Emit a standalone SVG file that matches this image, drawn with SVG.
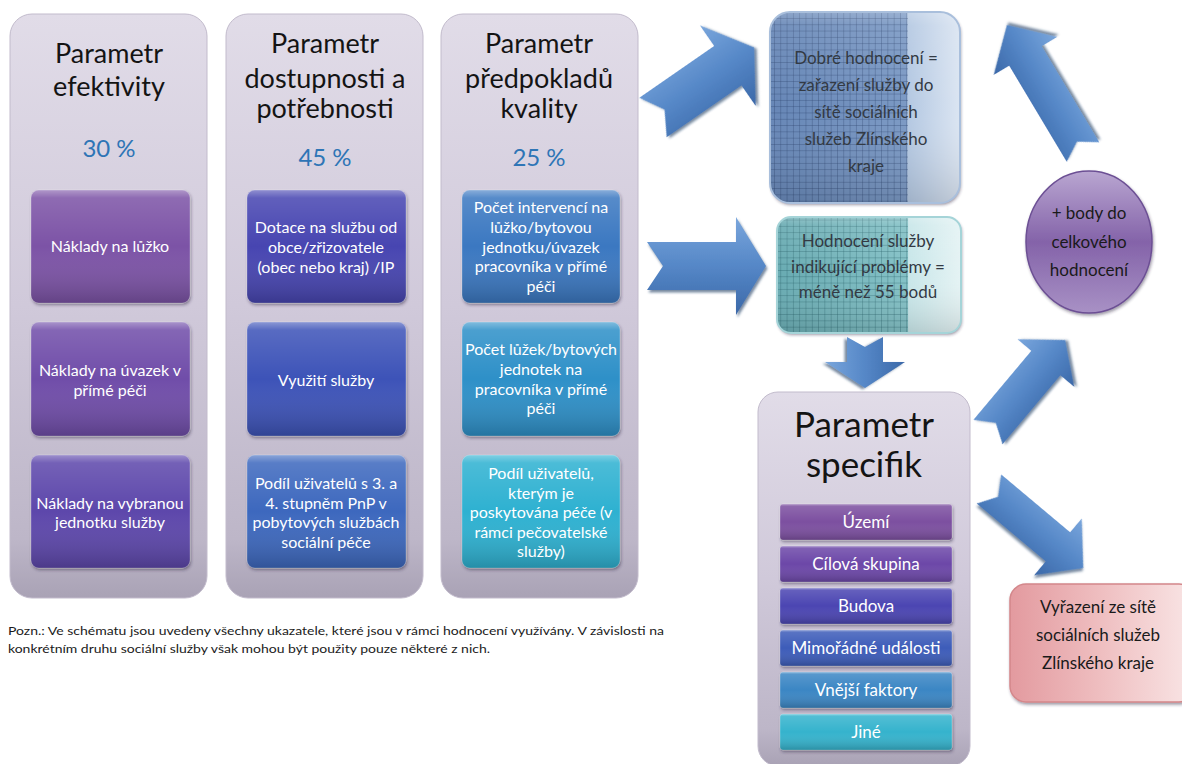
<svg xmlns="http://www.w3.org/2000/svg" width="1182" height="764" viewBox="0 0 1182 764">
<defs>
<style>
text{font-family:Lato,"Liberation Sans",sans-serif;text-anchor:middle}
.t{font-size:27px;fill:#141414}
.p{font-size:24px;fill:#2e75b6}
.w{font-size:16px;fill:#ffffff}
.wi{font-size:17px;fill:#ffffff}
.d{font-size:17px;fill:#333a44}
.k{font-size:17px;fill:#1a1a1a}
.col{fill:url(#colG);stroke:#c2bbcc;stroke-width:1}
.gl{fill:url(#gloss)}
.bx{stroke:#ffffff;stroke-opacity:.25;stroke-width:1;filter:url(#sh)}
.ar{filter:url(#ash)}
.note{font-size:12px;fill:#1a1a1a;text-anchor:start}
</style>
<linearGradient id="colG" x1="0" y1="0" x2="0" y2="1">
<stop offset="0" stop-color="#e1dce8"/><stop offset=".5" stop-color="#d0c9da"/><stop offset=".9" stop-color="#bdb6c8"/><stop offset="1" stop-color="#a9a2b5"/>
</linearGradient>
<linearGradient id="gloss" x1="0" y1="0" x2="0" y2="1">
<stop offset="0" stop-color="#fff" stop-opacity=".4"/><stop offset=".07" stop-color="#fff" stop-opacity=".14"/><stop offset=".5" stop-color="#fff" stop-opacity="0"/><stop offset="1" stop-color="#000" stop-opacity=".2"/>
</linearGradient>
<linearGradient id="arA" x1="0" y1="0" x2="0" y2="1">
<stop offset="0" stop-color="#7aa6dc"/><stop offset=".5" stop-color="#5587c7"/><stop offset="1" stop-color="#3b68a8"/>
</linearGradient>
<linearGradient id="arB" x1="0" y1="1" x2="0" y2="0">
<stop offset="0" stop-color="#7aa6dc"/><stop offset=".5" stop-color="#5587c7"/><stop offset="1" stop-color="#3b68a8"/>
</linearGradient>
<linearGradient id="dobG" x1="0" y1="0" x2="1" y2="0">
<stop offset="0" stop-color="#6686b6"/><stop offset=".72" stop-color="#7b99c4"/><stop offset=".725" stop-color="#b4c8e2"/><stop offset="1" stop-color="#dbe5f2"/>
</linearGradient>
<linearGradient id="tealG" x1="0" y1="0" x2="1" y2="0">
<stop offset="0" stop-color="#69abb2"/><stop offset=".71" stop-color="#84c1c6"/><stop offset=".715" stop-color="#c8e6e9"/><stop offset="1" stop-color="#e5f3f4"/>
</linearGradient>
<linearGradient id="cirG" x1="0" y1="0" x2="0" y2="1">
<stop offset="0" stop-color="#b9a6d1"/><stop offset=".5" stop-color="#8463a9"/><stop offset="1" stop-color="#a891c5"/>
</linearGradient>
<linearGradient id="vyrG" x1="0" y1="0" x2="1" y2="0">
<stop offset="0" stop-color="#e39a9f"/><stop offset=".5" stop-color="#efbfc1"/><stop offset="1" stop-color="#f9e6e6"/>
</linearGradient>
<pattern id="grid" width="6.3" height="6.3" patternUnits="userSpaceOnUse">
<path d="M6.3 0V6.3M0 6.3H6.3" stroke="#2c4670" stroke-width=".9" stroke-opacity=".75" fill="none"/>
</pattern>
<pattern id="gridT" width="6.3" height="6.3" patternUnits="userSpaceOnUse">
<path d="M6.3 0V6.3M0 6.3H6.3" stroke="#255f65" stroke-width=".9" stroke-opacity=".7" fill="none"/>
</pattern>
<clipPath id="cDob"><rect x="770" y="12" width="190" height="191" rx="20"/></clipPath>
<clipPath id="cTeal"><rect x="777" y="217" width="184" height="116" rx="14"/></clipPath>
<filter id="sh" x="-10%" y="-10%" width="120%" height="130%"><feDropShadow dx="1" dy="2" stdDeviation="1.5" flood-color="#2a2040" flood-opacity=".45"/></filter>
<filter id="ash" x="-20%" y="-20%" width="140%" height="140%"><feDropShadow dx="1.5" dy="2.5" stdDeviation="1.2" flood-color="#1f3a63" flood-opacity=".6"/></filter>
</defs>
<rect width="1182" height="764" fill="#ffffff"/>

<g id="connectors">
<polygon class="ar" fill="url(#arA)" transform="translate(653,117.5) rotate(-34.7)" points="0,-24 91,-24 91,-49 123,0 91,49 91,24 0,24 14,0"/>
<polygon class="ar" fill="url(#arA)" transform="translate(647,266)" points="0,-24 89,-24 89,-49 119,0 89,49 89,24 0,24 16,0"/>
<polygon class="ar" fill="url(#arB)" transform="translate(865,337) rotate(90)" points="0,-18 25,-18 25,-40 51,0 25,40 25,18 0,18 10,0"/>
<polygon class="ar" fill="url(#arA)" transform="translate(988,432) rotate(-50)" points="0,-19 90,-19 90,-37 120,0 90,37 90,19 0,19 12,0"/>
<polygon class="ar" fill="url(#arA)" transform="translate(989,489) rotate(40)" points="0,-19 90,-19 90,-37 123,0 90,37 90,19 0,19 12,0"/>
<polygon class="ar" fill="url(#arB)" transform="translate(1083,152) rotate(-120.9)" points="0,-19 112,-19 112,-37 148,0 112,37 112,19 0,19 12,0"/>
</g>

<g id="col-efektivity">
<rect class="col" x="10" y="14" width="197" height="584" rx="22"/>
<text class="t" x="109" y="63">Parametr</text>
<text class="t" x="109" y="96">efektivity</text>
<text class="p" x="109" y="157">30 %</text>
<rect class="bx" x="31" y="190" width="159" height="113" rx="8" fill="#7b52a6"/><rect class="gl" x="31" y="190" width="159" height="113" rx="8"/>
<text class="w" x="110" y="252">Náklady na lůžko</text>
<rect class="bx" x="31" y="322" width="159" height="114" rx="8" fill="#6f4ea9"/><rect class="gl" x="31" y="322" width="159" height="114" rx="8"/>
<text class="w" x="110" y="376">Náklady na úvazek v</text>
<text class="w" x="110" y="395.5">přímé péči</text>
<rect class="bx" x="31" y="455" width="159" height="113" rx="8" fill="#5d46ab"/><rect class="gl" x="31" y="455" width="159" height="113" rx="8"/>
<text class="w" x="110" y="508.5">Náklady na vybranou</text>
<text class="w" x="110" y="528">jednotku služby</text>
</g>

<g id="col-dostupnosti">
<rect class="col" x="226" y="14" width="197" height="584" rx="22"/>
<text class="t" x="325" y="53">Parametr</text>
<text class="t" x="325" y="88">dostupnosti a</text>
<text class="t" x="325" y="118">potřebnosti</text>
<text class="p" x="325" y="166">45 %</text>
<rect class="bx" x="247" y="190" width="159" height="113" rx="8" fill="#4645b1"/><rect class="gl" x="247" y="190" width="159" height="113" rx="8"/>
<text class="w" x="326" y="233">Dotace na službu od</text>
<text class="w" x="326" y="253">obce/zřizovatele</text>
<text class="w" x="326" y="273">(obec nebo kraj) /IP</text>
<rect class="bx" x="247" y="322" width="159" height="114" rx="8" fill="#3e52b8"/><rect class="gl" x="247" y="322" width="159" height="114" rx="8"/>
<text class="w" x="326" y="386">Využití služby</text>
<rect class="bx" x="247" y="455" width="159" height="113" rx="8" fill="#3d68be"/><rect class="gl" x="247" y="455" width="159" height="113" rx="8"/>
<text class="w" x="326" y="489">Podíl uživatelů s 3. a</text>
<text class="w" x="326" y="508.5">4. stupněm PnP v</text>
<text class="w" x="326" y="528">pobytových službách</text>
<text class="w" x="326" y="547.5">sociální péče</text>
</g>

<g id="col-kvality">
<rect class="col" x="441" y="14" width="197" height="584" rx="22"/>
<text class="t" x="539" y="53">Parametr</text>
<text class="t" x="539" y="88">předpokladů</text>
<text class="t" x="539" y="118">kvality</text>
<text class="p" x="539" y="166">25 %</text>
<rect class="bx" x="462" y="190" width="158" height="113" rx="8" fill="#3a78c1"/><rect class="gl" x="462" y="190" width="158" height="113" rx="8"/>
<text class="w" x="541" y="213">Počet intervencí na</text>
<text class="w" x="541" y="233">lůžko/bytovou</text>
<text class="w" x="541" y="252.5">jednotku/úvazek</text>
<text class="w" x="541" y="272">pracovníka v přímé</text>
<text class="w" x="541" y="291.5">péči</text>
<rect class="bx" x="462" y="322" width="158" height="114" rx="8" fill="#2f90c8"/><rect class="gl" x="462" y="322" width="158" height="114" rx="8"/>
<text class="w" x="541" y="355">Počet lůžek/bytových</text>
<text class="w" x="541" y="375">jednotek na</text>
<text class="w" x="541" y="394.5">pracovníka v přímé</text>
<text class="w" x="541" y="414">péči</text>
<rect class="bx" x="462" y="455" width="158" height="113" rx="8" fill="#2fb1d1"/><rect class="gl" x="462" y="455" width="158" height="113" rx="8"/>
<text class="w" x="541" y="479">Podíl uživatelů,</text>
<text class="w" x="541" y="498.5">kterým je</text>
<text class="w" x="541" y="518">poskytována péče (v</text>
<text class="w" x="541" y="537.5">rámci pečovatelské</text>
<text class="w" x="541" y="557">služby)</text>
</g>

<g id="node-dobre">
<rect x="770" y="12" width="190" height="191" rx="20" fill="url(#dobG)" filter="url(#sh)"/>
<rect x="770" y="12" width="138" height="191" fill="url(#grid)" clip-path="url(#cDob)"/>
<rect x="770" y="12" width="190" height="191" rx="20" fill="url(#gloss)" opacity=".6"/>
<rect x="770" y="12" width="190" height="191" rx="20" fill="none" stroke="#a9bfdc" stroke-width="2"/>
<text class="d" x="866" y="64">Dobré hodnocení =</text>
<text class="d" x="866" y="91">zařazení služby do</text>
<text class="d" x="866" y="118">sítě sociálních</text>
<text class="d" x="866" y="145">služeb Zlínského</text>
<text class="d" x="866" y="172">kraje</text>
</g>

<g id="node-problemy">
<rect x="777" y="217" width="184" height="116" rx="14" fill="url(#tealG)" filter="url(#sh)"/>
<rect x="777" y="217" width="131" height="116" fill="url(#gridT)" clip-path="url(#cTeal)"/>
<rect x="777" y="217" width="184" height="116" rx="14" fill="url(#gloss)" opacity=".6"/>
<rect x="777" y="217" width="184" height="116" rx="14" fill="none" stroke="#a5d4d8" stroke-width="2"/>
<text class="d" x="868" y="247">Hodnocení služby</text>
<text class="d" x="868" y="273">indikující problémy =</text>
<text class="d" x="868" y="298">méně než 55 bodů</text>
</g>

<g id="node-body">
<ellipse cx="1089" cy="242" rx="63" ry="71" fill="url(#cirG)" stroke="#6c4f94" stroke-width="1.5" filter="url(#sh)"/>
<text class="k" x="1089" y="219">+ body do</text>
<text class="k" x="1089" y="248">celkového</text>
<text class="k" x="1089" y="276">hodnocení</text>
</g>

<g id="node-specifik">
<rect class="col" x="758" y="392" width="212" height="374" rx="20"/>
<text style="font-size:35px;fill:#141414" x="864" y="437">Parametr</text>
<text style="font-size:35px;fill:#141414" x="864" y="477">specifik</text>
<rect class="bx" x="780" y="504" width="172" height="36" rx="3" fill="#7c4fa0"/><rect class="gl" x="780" y="504" width="172" height="36" rx="3"/>
<text class="wi" x="866" y="528">Území</text>
<rect class="bx" x="780" y="546" width="172" height="36" rx="3" fill="#6c47a8"/><rect class="gl" x="780" y="546" width="172" height="36" rx="3"/>
<text class="wi" x="866" y="570">Cílová skupina</text>
<rect class="bx" x="780" y="588" width="172" height="36" rx="3" fill="#4b44b2"/><rect class="gl" x="780" y="588" width="172" height="36" rx="3"/>
<text class="wi" x="866" y="612">Budova</text>
<rect class="bx" x="780" y="630" width="172" height="36" rx="3" fill="#3e5cb9"/><rect class="gl" x="780" y="630" width="172" height="36" rx="3"/>
<text class="wi" x="866" y="654">Mimořádné události</text>
<rect class="bx" x="780" y="672" width="172" height="36" rx="3" fill="#3a86c4"/><rect class="gl" x="780" y="672" width="172" height="36" rx="3"/>
<text class="wi" x="866" y="696">Vnější faktory</text>
<rect class="bx" x="780" y="714" width="172" height="36" rx="3" fill="#35b3cd"/><rect class="gl" x="780" y="714" width="172" height="36" rx="3"/>
<text class="wi" x="866" y="738">Jiné</text>
</g>

<g id="node-vyrazeni">
<rect x="1010" y="584" width="185" height="118" rx="16" fill="url(#vyrG)" stroke="#d4878b" stroke-width="1.5" filter="url(#sh)"/>
<text class="k" x="1098" y="613">Vyřazení ze sítě</text>
<text class="k" x="1098" y="641">sociálních služeb</text>
<text class="k" x="1098" y="669">Zlínského kraje</text>
</g>

<g id="note">
<text class="note" x="8" y="635" textLength="656" lengthAdjust="spacingAndGlyphs">Pozn.: Ve schématu jsou uvedeny všechny ukazatele, které jsou v rámci hodnocení využívány. V závislosti na</text>
<text class="note" x="8" y="653" textLength="482" lengthAdjust="spacingAndGlyphs">konkrétním druhu sociální služby však mohou být použity pouze některé z nich.</text>
</g>
</svg>
